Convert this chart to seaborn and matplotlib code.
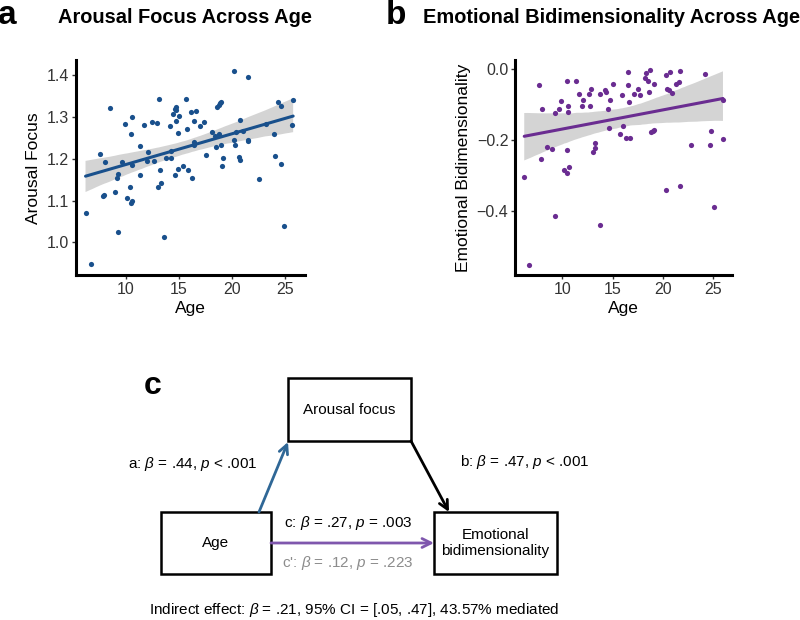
import numpy as np
import pandas as pd
import seaborn as sns
import matplotlib.pyplot as plt
from matplotlib.patches import Rectangle
from matplotlib import font_manager

# panel a: arousal focus by age
age_a = [6.2, 6.7, 7.6, 7.85, 7.9, 8.0, 8.5, 9.0, 9.2, 9.25,
         9.25, 9.66, 9.9, 10.1, 10.4, 10.5, 10.5, 10.6, 10.6, 10.6,
         11.3, 11.3, 11.7, 12.1, 12.0, 12.5, 12.7, 12.9, 13.0, 13.15,
         13.25, 13.3, 13.65, 13.75, 14.2, 14.3, 14.3, 14.5, 14.6, 14.75,
         14.7, 14.6, 14.7, 14.95, 14.9, 15.05, 15.4, 15.65, 15.8, 15.9,
         16.15, 16.25, 16.4, 16.4, 16.6, 16.4, 17.0, 17.4, 17.6, 18.1,
         18.4, 18.5, 18.6, 18.8, 18.9, 19.0, 18.8, 18.95, 19.15, 19.1,
         20.2, 20.25, 20.3, 20.4, 20.7, 20.75, 20.8, 21.1, 21.5, 21.5,
         21.5, 22.6, 23.25, 24.0, 24.1, 24.4, 24.65, 24.7, 24.9, 25.8,
         25.7]
arousal = [1.071, 0.948, 1.212, 1.111, 1.114, 1.191, 1.322, 1.121, 1.154, 1.164,
           1.024, 1.193, 1.283, 1.106, 1.132, 1.258, 1.093, 1.099, 1.299, 1.186,
           1.231, 1.160, 1.280, 1.216, 1.195, 1.288, 1.195, 1.286, 1.133, 1.344,
           1.174, 1.142, 1.012, 1.202, 1.278, 1.218, 1.202, 1.308, 1.318, 1.325,
           1.316, 1.161, 1.291, 1.175, 1.262, 1.302, 1.183, 1.343, 1.270, 1.173,
           1.313, 1.154, 1.240, 1.290, 1.315, 1.232, 1.278, 1.287, 1.208, 1.265,
           1.255, 1.227, 1.323, 1.329, 1.333, 1.336, 1.260, 1.233, 1.202, 1.182,
           1.410, 1.245, 1.232, 1.263, 1.205, 1.196, 1.293, 1.267, 1.395, 1.246,
           1.242, 1.152, 1.283, 1.258, 1.207, 1.335, 1.326, 1.188, 1.040, 1.341,
           1.280]

# panel b: emotional bidimensionality by age
age_b = [6.2, 6.7, 7.63, 8.0, 7.87, 8.5, 8.97, 9.27, 9.27, 9.67,
         9.9, 10.13, 10.43, 10.47, 10.53, 10.6, 10.47, 10.63, 11.4, 11.7,
         12.0, 12.1, 12.63, 12.9, 12.73, 13.07, 13.27, 13.3, 13.77, 13.77,
         14.23, 14.3, 14.53, 14.7, 14.67, 15.0, 15.93, 15.77, 16.0, 16.3,
         16.53, 16.53, 16.6, 16.7, 17.1, 17.53, 17.7, 18.23, 18.3, 18.5,
         18.67, 18.7, 18.83, 19.03, 19.1, 19.17, 20.33, 20.33, 20.4, 20.63,
         20.73, 20.93, 21.7, 21.63, 21.7, 21.37, 22.77, 24.17, 24.7, 24.83,
         25.1, 26.0, 26.0]
bidim = [-0.305, -0.550, -0.045, -0.113, -0.253, -0.220, -0.225, -0.412, -0.123, -0.112,
         -0.089, -0.285, -0.292, -0.035, -0.103, -0.121, -0.228, -0.276, -0.035, -0.070,
         -0.104, -0.088, -0.069, -0.057, -0.104, -0.234, -0.223, -0.207, -0.070, -0.440,
         -0.059, -0.065, -0.111, -0.088, -0.167, -0.042, -0.072, -0.182, -0.159, -0.194,
         -0.008, -0.046, -0.094, -0.194, -0.070, -0.055, -0.074, -0.024, -0.010, -0.035,
         -0.064, -0.002, -0.178, -0.175, -0.041, -0.172, -0.340, -0.016, -0.056, -0.060,
         -0.007, -0.067, -0.006, -0.036, -0.328, -0.041, -0.215, -0.015, -0.213, -0.175,
         -0.388, -0.087, -0.198]

# mediation path labels
path_a = r"a: $\beta$ = .44, $p$ < .001"
path_b = r"b: $\beta$ = .47, $p$ < .001"
path_c = r"c: $\beta$ = .27, $p$ = .003"
path_c2 = r"c': $\beta$ = .12, $p$ = .223"
indirect = r"Indirect effect: $\beta$ = .21, 95% CI = [.05, .47], 43.57% mediated"

BLUE = "#19508c"
PURPLE = "#6a2c91"
ARROW_BLUE = "#2f6796"
ARROW_PURPLE = "#7f57ad"

sns.set_style("white")
plt.rcParams["font.family"] = ["Liberation Sans", "DejaVu Sans"]
plt.rcParams["text.color"] = "black"
plt.rcParams["axes.labelcolor"] = "black"
names = {f.name for f in font_manager.fontManager.ttflist}
narrow = "Liberation Sans Narrow" if "Liberation Sans Narrow" in names else "Liberation Sans"
plt.rcParams["mathtext.fontset"] = "custom"
plt.rcParams["mathtext.rm"] = narrow
plt.rcParams["mathtext.it"] = f"{narrow}:italic"
diag_size = 12.5 if narrow == "Liberation Sans Narrow" else 11

df_a = pd.DataFrame({"Age": age_a, "Arousal Focus": arousal})
df_b = pd.DataFrame({"Age": age_b, "Emotional Bidimensionality": bidim})

fig = plt.figure(figsize=(8, 6.2), dpi=100)


def scatter_panel(rect, df, ycol, color, ylim, yticks, yfmt):
    ax = fig.add_axes(rect)
    # band first, then points, then line on top
    sns.regplot(data=df, x="Age", y=ycol, ax=ax, scatter=False, ci=95, seed=1,
                color="#999999", line_kws={"alpha": 0})
    for coll in ax.collections:
        coll.set_facecolor("#d4d4d4")
        coll.set_alpha(1)
        coll.set_edgecolor("none")
    sns.scatterplot(data=df, x="Age", y=ycol, ax=ax, color=color, s=14,
                    linewidth=0, zorder=3)
    sns.regplot(data=df, x="Age", y=ycol, ax=ax, scatter=False, ci=None,
                color=color, line_kws={"lw": 2.2, "zorder": 4})
    ax.set_xlim(5.3, 26.9)
    ax.set_ylim(*ylim)
    ax.set_xticks([10, 15, 20, 25])
    ax.set_yticks(yticks)
    ax.set_yticklabels([yfmt(v) for v in yticks])
    for side in ["top", "right"]:
        ax.spines[side].set_visible(False)
    for side in ["left", "bottom"]:
        ax.spines[side].set_linewidth(2.2)
        ax.spines[side].set_color("black")
    ax.tick_params(axis="both", length=3, width=1, color="#333333",
                   labelsize=11.5, labelcolor="#333333", pad=2, left=True, bottom=True)
    ax.set_xlabel("Age", fontsize=12.5, labelpad=3)
    ax.set_ylabel(ycol, fontsize=12.5, labelpad=4)
    return ax


ax_a = scatter_panel([0.095, 0.556, 0.286, 0.347], df_a, "Arousal Focus", BLUE,
                     (0.921, 1.436), [1.0, 1.1, 1.2, 1.3, 1.4], lambda v: f"{v:.1f}")
ax_b = scatter_panel([0.644, 0.556, 0.271, 0.347], df_b, "Emotional Bidimensionality", PURPLE,
                     (-0.58, 0.025), [-0.4, -0.2, 0.0],
                     lambda v: f"{v:.1f}".replace("-", "\u2212"))

fig.text(-0.002, 0.9605, "a", fontsize=24, fontweight="bold", va="baseline", ha="left")
fig.text(0.073, 0.963, "Arousal Focus Across Age", fontsize=14.4, fontweight="bold",
         va="baseline", ha="left")
fig.text(0.482, 0.9605, "b", fontsize=24, fontweight="bold", va="baseline", ha="left")
fig.text(0.529, 0.963, "Emotional Bidimensionality Across Age", fontsize=14.4,
         fontweight="bold", va="baseline", ha="left")

# mediation diagram in pixel coordinates
axc = fig.add_axes([0, 0, 1, 1], zorder=-1)
axc.set_xlim(0, 800)
axc.set_ylim(620, 0)
axc.axis("off")

boxes = {"Arousal focus": (288, 378, 123, 63),
         "Age": (161, 512, 110, 62),
         "Emotional\nbidimensionality": (434, 512, 123, 62)}
for label, (x, y, w, h) in boxes.items():
    axc.add_patch(Rectangle((x, y), w, h, fill=False, lw=1.8, ec="black"))
    axc.text(x + w / 2, y + h / 2, label, ha="center", va="center", fontsize=diag_size,
             family=[narrow, "DejaVu Sans"], linespacing=1.1)


def arrow(p0, p1, color):
    axc.annotate("", xy=p1, xytext=p0,
                 arrowprops=dict(arrowstyle="->", lw=2, color=color,
                                 mutation_scale=16, shrinkA=0, shrinkB=0))


arrow((259, 512), (288, 442), ARROW_BLUE)
arrow((411, 441), (449, 512), "black")
arrow((271, 543), (434, 543), ARROW_PURPLE)

kw = dict(ha="center", va="center", fontsize=diag_size, family=[narrow, "DejaVu Sans"])
axc.text(153, 394, "c", fontsize=23, fontweight="bold", ha="center", va="baseline")
axc.text(193, 464, path_a, **kw)
axc.text(525, 462, path_b, **kw)
axc.text(348, 523, path_c, **kw)
axc.text(348, 563, path_c2, color="#8c8c8c", **kw)
axc.text(354, 610, indirect, **kw)

fig.savefig("out.png", dpi=100)
